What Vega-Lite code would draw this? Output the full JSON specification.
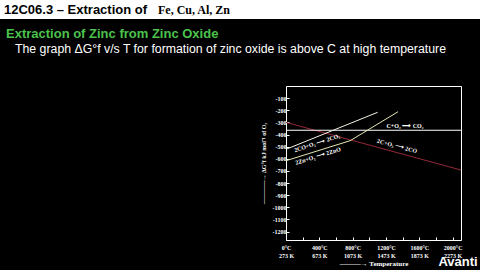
{
  "$schema": "https://vega.github.io/schema/vega-lite/v6.json",
  "width": 175,
  "height": 154,
  "autosize": {"type": "none"},
  "padding": {"top": 86, "left": 286, "right": 19, "bottom": 30},
  "background": "#000000",
  "config": {"view": {"stroke": "#ffffff", "strokeWidth": 1}, "axis": {"labelOverlap": false, "grid": false}},
  "layer": [
    {
      "data": {"values": [{"band": "header"}]},
      "mark": {"type": "rect", "color": "#ffffff"},
      "encoding": {
        "x": {"datum": -3432, "type": "quantitative", "scale": {"domain": [0, 2100], "nice": false, "zero": false}},
        "x2": {"datum": 2328},
        "y": {"datum": 709, "type": "quantitative", "scale": {"domain": [-1270, 0], "nice": false, "zero": false}},
        "y2": {"datum": 552}
      }
    },
    {
      "data": {
        "values": [
          {"reaction": "2C+O2", "T": 0, "G": -300},
          {"reaction": "2C+O2", "T": 2100, "G": -693},
          {"reaction": "C+O2", "T": 0, "G": -365},
          {"reaction": "C+O2", "T": 2100, "G": -365},
          {"reaction": "2CO+O2", "T": 0, "G": -522},
          {"reaction": "2CO+O2", "T": 1100, "G": -217},
          {"reaction": "2Zn+O2", "T": 0, "G": -616},
          {"reaction": "2Zn+O2", "T": 770, "G": -451},
          {"reaction": "2Zn+O2", "T": 1345, "G": -212}
        ]
      },
      "mark": {"type": "line", "strokeWidth": 1, "clip": true},
      "encoding": {
        "x": {
          "field": "T",
          "type": "quantitative",
          "scale": {"domain": [0, 2100], "nice": false, "zero": false},
          "axis": {
            "title": "———→ Temperature",
            "values": [0, 200, 400, 600, 800, 1000, 1200, 1400, 1600, 1800, 2000],
            "tickCount": 40,
            "labelExpr": "datum.value % 400 == 0 ? [datum.value + '°C', (datum.value + 273) + ' K'] : ''",
            "labelFont": "Liberation Serif",
            "labelFontWeight": "bold",
            "labelFontSize": 6,
            "labelColor": "#ffffff",
            "labelLineHeight": 8,
            "labelPadding": 7,
            "labelFlush": false,
            "labelOverlap": false,
            "tickColor": "#ffffff",
            "tickSize": -3,
            "domain": false,
            "grid": false,
            "titleFont": "Liberation Serif",
            "titleFontWeight": "bold",
            "titleFontSize": 7,
            "titleColor": "#ffffff",
            "titlePadding": 1
          }
        },
        "y": {
          "field": "G",
          "type": "quantitative",
          "scale": {"domain": [-1270, 0], "nice": false, "zero": false},
          "axis": {
            "title": "————→        ΔG°f kJ mol⁻¹ of O₂",
            "values": [-100, -200, -300, -400, -500, -600, -700, -800, -900, -1000, -1100, -1200],
            "tickCount": 40,
            "labelExpr": "'-' + (-datum.value)",
            "labelFont": "Liberation Serif",
            "labelFontWeight": "bold",
            "labelFontSize": 6,
            "labelColor": "#ffffff",
            "labelPadding": 3,
            "labelOverlap": false,
            "tickColor": "#ffffff",
            "tickSize": -3,
            "domain": false,
            "grid": false,
            "titleFont": "Liberation Serif",
            "titleFontWeight": "bold",
            "titleFontSize": 6,
            "titleColor": "#ffffff",
            "titlePadding": 6
          }
        },
        "color": {
          "field": "reaction",
          "type": "nominal",
          "scale": {"domain": ["2C+O2", "C+O2", "2CO+O2", "2Zn+O2"], "range": ["#952838", "#ffffff", "#f4f4e6", "#e8e8b4"]},
          "legend": null
        }
      }
    },
    {
      "data": {"values": [{"label": "C+O₂ ⟶ CO₂"}]},
      "mark": {"type": "text", "font": "Liberation Serif", "fontSize": 6, "fontWeight": "bold", "color": "#ffffff", "angle": 0},
      "encoding": {
        "text": {"field": "label"},
        "x": {"datum": 1428, "type": "quantitative"},
        "y": {"datum": -330, "type": "quantitative"}
      }
    },
    {
      "data": {"values": [{"label": "2C+O₂ ⟶ 2CO"}]},
      "mark": {"type": "text", "font": "Liberation Serif", "fontSize": 6, "fontWeight": "bold", "color": "#ffffff", "angle": 15},
      "encoding": {
        "text": {"field": "label"},
        "x": {"datum": 1332, "type": "quantitative"},
        "y": {"datum": -495, "type": "quantitative"}
      }
    },
    {
      "data": {"values": [{"label": "2CO+O₂ ⟶ 2CO₂"}]},
      "mark": {"type": "text", "font": "Liberation Serif", "fontSize": 6, "fontWeight": "bold", "color": "#ffffff", "angle": -18},
      "encoding": {
        "text": {"field": "label"},
        "x": {"datum": 372, "type": "quantitative"},
        "y": {"datum": -470, "type": "quantitative"}
      }
    },
    {
      "data": {"values": [{"label": "2Zn+O₂ ⟶ 2ZnO"}]},
      "mark": {"type": "text", "font": "Liberation Serif", "fontSize": 6, "fontWeight": "bold", "color": "#ffffff", "angle": -17},
      "encoding": {
        "text": {"field": "label"},
        "x": {"datum": 384, "type": "quantitative"},
        "y": {"datum": -577, "type": "quantitative"}
      }
    },
    {
      "data": {"values": [{"text": "12C06.3 – Extraction of"}]},
      "mark": {"type": "text", "font": "Liberation Sans", "fontSize": 13, "fontWeight": "bold", "color": "#000000", "align": "left", "baseline": "alphabetic"},
      "encoding": {
        "text": {"field": "text"},
        "x": {"datum": -3384, "type": "quantitative"},
        "y": {"datum": 594, "type": "quantitative"}
      }
    },
    {
      "data": {"values": [{"text": "Fe, Cu, Al, Zn"}]},
      "mark": {"type": "text", "font": "Liberation Serif", "fontSize": 12, "fontWeight": "bold", "color": "#000000", "align": "right", "baseline": "alphabetic"},
      "encoding": {
        "text": {"field": "text"},
        "x": {"datum": -672, "type": "quantitative"},
        "y": {"datum": 594, "type": "quantitative"}
      }
    },
    {
      "data": {"values": [{"text": "Extraction of Zinc from Zinc Oxide"}]},
      "mark": {"type": "text", "font": "Liberation Sans", "fontSize": 13, "fontWeight": "bold", "color": "#4cc24c", "align": "left", "baseline": "alphabetic"},
      "encoding": {
        "text": {"field": "text"},
        "x": {"datum": -3360, "type": "quantitative"},
        "y": {"datum": 398, "type": "quantitative"}
      }
    },
    {
      "data": {"values": [{"text": "The graph ΔG°f v/s T for formation of zinc oxide is above C at high temperature"}]},
      "mark": {"type": "text", "font": "Liberation Sans", "fontSize": 12.3, "color": "#ffffff", "align": "left", "baseline": "alphabetic"},
      "encoding": {
        "text": {"field": "text"},
        "x": {"datum": -3252, "type": "quantitative"},
        "y": {"datum": 275, "type": "quantitative"}
      }
    },
    {
      "data": {"values": [{"text": "Avanti"}]},
      "mark": {"type": "text", "font": "Liberation Sans", "fontSize": 13, "fontWeight": "bold", "color": "#ffffff", "align": "center", "baseline": "alphabetic"},
      "encoding": {
        "text": {"field": "text"},
        "x": {"datum": 2064, "type": "quantitative"},
        "y": {"datum": -1484, "type": "quantitative"}
      }
    }
  ]
}
